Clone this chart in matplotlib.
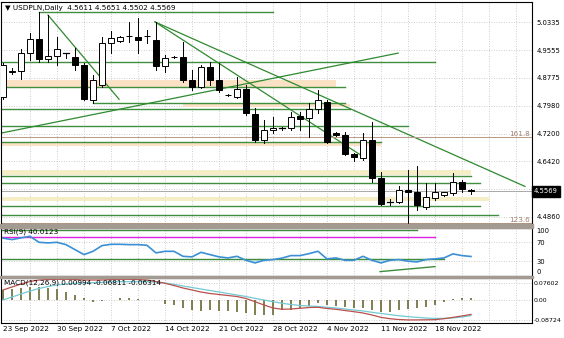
import numpy as np
import pandas as pd
import matplotlib
matplotlib.use('Agg')
import matplotlib.pyplot as plt
from matplotlib.patches import Rectangle
import matplotlib.transforms as mtransforms

# daily bars, broker sends a short Sunday bar, no Saturday
days = [d for d in pd.date_range('2022-09-23', '2022-11-23') if d.weekday() != 5]

opens = [4.8225, 4.8950, 4.8959, 4.9468, 4.9863, 4.9298, 4.9383, 4.9460, 4.9355, 4.9129,
         4.8140, 4.8564, 4.9750, 4.9807, 4.9955, 4.9920, 4.9955, 4.9835, 4.9101, 4.9345,
         4.9355, 4.8705, 4.8507, 4.9072, 4.8705, 4.8275, 4.8225, 4.8451, 4.7745, 4.7010,
         4.7293, 4.7345, 4.7349, 4.7688, 4.7632, 4.7886, 4.8084, 4.7208, 4.7151, 4.6615,
         4.6502, 4.7010, 4.5937, 4.5259, 4.5259, 4.5598, 4.5541, 4.5117, 4.5372, 4.5456,
         4.5513, 4.5824, 4.5611]
highs = [4.9185, 4.9044, 4.9581, 5.0033, 5.0626, 5.0541, 4.9920, 4.9475, 4.9609, 4.9185,
         4.8846, 4.9920, 5.0089, 4.9948, 5.0344, 5.0457, 5.0118, 5.0344, 4.9411, 4.9383,
         4.9779, 4.8988, 4.9129, 4.9214, 4.9185, 4.8310, 4.8790, 4.8564, 4.7914, 4.7575,
         4.7660, 4.7377, 4.7801, 4.7801, 4.8055, 4.8423, 4.8140, 4.7236, 4.7236, 4.6643,
         4.7208, 4.7519, 4.6106, 4.5343, 4.5711, 4.6163, 4.6276, 4.5795, 4.5795, 4.5541,
         4.6078, 4.5880, 4.5651]
lows = [4.8168, 4.8875, 4.8733, 4.9270, 4.9214, 4.9214, 4.9129, 4.9327, 4.8988, 4.8140,
        4.8055, 4.8507, 4.9468, 4.9779, 4.9779, 4.9468, 4.9750, 4.8988, 4.8931, 4.9327,
        4.8649, 4.8423, 4.8479, 4.8564, 4.8366, 4.8253, 4.8210, 4.7716, 4.6954, 4.6925,
        4.7208, 4.7307, 4.7293, 4.7293, 4.7095, 4.7773, 4.6925, 4.7138, 4.6587, 4.6417,
        4.6445, 4.5824, 4.5174, 4.5174, 4.5230, 4.4694, 4.5033, 4.5061, 4.5315, 4.5442,
        4.5456, 4.5541, 4.5502]
closes = [4.9129, 4.8965, 4.9468, 4.9863, 4.9298, 4.9383, 4.9581, 4.9468, 4.9129, 4.8168,
          4.8705, 4.9750, 4.9892, 4.9920, 4.9940, 4.9835, 4.9940, 4.9101, 4.9327, 4.9360,
          4.8705, 4.8507, 4.9072, 4.8705, 4.8423, 4.8285, 4.8451, 4.7773, 4.7010, 4.7293,
          4.7349, 4.7352, 4.7660, 4.7603, 4.7886, 4.8140, 4.6954, 4.7151, 4.6615, 4.6530,
          4.7010, 4.5937, 4.5202, 4.5265, 4.5598, 4.5541, 4.5174, 4.5400, 4.5541, 4.5541,
          4.5824, 4.5626, 4.5569]

rsi = [78.7, 75.6, 79.2, 82.5, 69.9, 68.6, 69.9, 65.0, 54.5, 44.0,
       50.9, 62.9, 65.7, 65.7, 65.0, 65.0, 63.6, 47.6, 50.9, 50.9,
       40.4, 39.2, 48.8, 44.0, 39.2, 37.0, 40.4, 32.0, 26.5, 32.0,
       33.5, 36.6, 41.9, 41.9, 46.0, 51.0, 35.0, 37.0, 32.0, 32.0,
       40.4, 32.0, 26.5, 32.0, 33.5, 30.0, 28.6, 33.5, 35.0, 37.0,
       45.5, 41.9, 40.0123]

macd_hist = [0.0438, 0.0468, 0.0512, 0.0582, 0.0582, 0.0512, 0.0468, 0.0363, 0.0219, 0.0074,
             -0.0074, -0.0031, 0.0013, 0.0074, 0.0074, 0.0044, 0.0013, -0.0005, -0.0175, -0.0219,
             -0.0337, -0.0438, -0.0468, -0.0438, -0.0468, -0.0468, -0.0538, -0.0582, -0.0656, -0.0656,
             -0.0656, -0.0438, -0.0438, -0.0363, -0.0263, -0.0118, -0.0219, -0.0263, -0.0319, -0.0363,
             -0.0363, -0.0438, -0.0512, -0.0512, -0.0438, -0.0407, -0.0363, -0.0293, -0.0219, -0.0074,
             0.0031, 0.0074, 0.00994]
macd_main = [0.0438, 0.0569, 0.0700, 0.0810, 0.0875, 0.0897, 0.0906, 0.0906, 0.0897, 0.0875,
             0.0875, 0.0875, 0.0897, 0.0906, 0.0906, 0.0897, 0.0875, 0.0810, 0.0731, 0.0635,
             0.0525, 0.0438, 0.0350, 0.0284, 0.0241, 0.0197, 0.0153, 0.0066, -0.0074, -0.0219,
             -0.0350, -0.0407, -0.0394, -0.0363, -0.0328, -0.0319, -0.0372, -0.0407, -0.0460, -0.0512,
             -0.0569, -0.0656, -0.0760, -0.0820, -0.0855, -0.0872, -0.0872, -0.0868, -0.0860, -0.0820,
             -0.0760, -0.0700, -0.06314]
macd_signal = [0.0000, 0.0131, 0.0263, 0.0394, 0.0503, 0.0591, 0.0656, 0.0700, 0.0731, 0.0744,
               0.0757, 0.0775, 0.0788, 0.0801, 0.0801, 0.0801, 0.0801, 0.0788, 0.0744, 0.0687,
               0.0613, 0.0547, 0.0481, 0.0416, 0.0350, 0.0284, 0.0219, 0.0153, 0.0074, 0.0000,
               -0.0074, -0.0144, -0.0197, -0.0241, -0.0263, -0.0284, -0.0319, -0.0350, -0.0394, -0.0438,
               -0.0481, -0.0538, -0.0590, -0.0640, -0.0690, -0.0730, -0.0760, -0.0790, -0.0805, -0.0805,
               -0.0785, -0.0745, -0.06811]

price_ticks = [5.0335, 4.9555, 4.8775, 4.7980, 4.7200, 4.6420, 4.5640, 4.4860]
last_price = 4.5569

# drawn objects: (price, from bar, to bar)
h_lines = [(5.0618, 4, 30), (4.9222, -1, 48), (4.8521, -1, 38), (4.8069, 10, 38),
           (4.7906, -1, 38.6), (4.7427, -1, 45), (4.6975, -1, 42), (4.5993, -1, 52),
           (4.5804, -1, 53), (4.5146, -1, 53), (4.4905, -1, 55)]
zones = [(4.8705, 4.8521, -1, 37, '#fbe2c5'), (4.8041, 4.7942, 20, 38.6, '#fbe2c5'),
         (4.6954, 4.6841, -1, 42, '#fbe2c5'), (4.6163, 4.6021, -1, 52, '#f4edc6'),
         (4.5400, 4.5287, -1, 54, '#f4edc6')]
trend_lines = [(5, 5.0541, 12.9, 4.8168), (16.9, 5.0346, 58, 4.5711),
               (16.9, 5.0346, 40.2, 4.6520), (-0.33, 4.7208, 43.9, 4.9468)]
fib = [(4.7095, '161.8'), (4.4680, '123.6')]

rsi_lines = [(95.8, -1, 46, '#3c8c3c'), (81.7, -1, 48, '#e020e0'), (33.7, -1, 49, '#3c8c3c')]
rsi_trend = (41.9, 8.2, 48, 18.7)

W, H = 564, 338
FS = 5.2
plt.rcParams['font.family'] = 'DejaVu Sans'
plt.rcParams['font.size'] = FS
fig = plt.figure(figsize=(W / 100, H / 100), dpi=100)


def box(top, bottom, left=1, right=532):
    return [left / W, 1 - bottom / H, (right - left) / W, (bottom - top) / H]


ax = fig.add_axes(box(1.5, 223.5))
ax_rsi = fig.add_axes(box(228, 275.5))
ax_macd = fig.add_axes(box(277.5, 323))

# panel separators
for top, bot in [(223.5, 228), (275.5, 277.5)]:
    fig.patches.append(Rectangle((0, 1 - bot / H), 533 / W, (bot - top) / H,
                                 transform=fig.transFigure, color='#a39a92', zorder=5))

n = len(opens)
x = np.arange(n)
grid_kw = dict(color='#bdbdbd', linestyle=(0, (1, 2)), linewidth=0.6)
for a in (ax, ax_rsi, ax_macd):
    a.set_xlim(-0.22, 58.78)
    a.set_xticks(np.arange(3, 58, 3))
    a.grid(True, **grid_kw)
    a.set_axisbelow(True)
    a.yaxis.tick_right()
    a.tick_params(axis='y', length=0, pad=3, labelsize=4.9)
    a.tick_params(axis='x', labelbottom=False, length=0)
    for s in a.spines.values():
        s.set_linewidth(0.8)
        s.set_color('black')

# ---- main price panel
ax.set_ylim(4.4666, 5.0923)
ax.set_yticks(price_ticks)
ax.set_yticklabels([f'{p:.4f}' if p != 4.5640 else '' for p in price_ticks])

for top, bot, x0, x1, col in zones:
    ax.add_patch(Rectangle((x0, bot), x1 - x0, top - bot, color=col, lw=0, zorder=1))
for p, x0, x1 in h_lines:
    ax.plot([x0, x1], [p, p], color='#3f8f3f', lw=1.0, zorder=2)
for x0, p0, x1, p1 in trend_lines:
    ax.plot([x0, x1], [p0, p1], color='#2f8a2f', lw=0.9, zorder=2)
for p, txt in fib:
    ax.axhline(p, color='#b89a84', lw=0.7, zorder=2)
    ax.text(58.6, p, txt, color='#a08070', ha='right', va='bottom', fontsize=FS, zorder=6)
ax.axhline(last_price, color='#a8a8a8', lw=0.7, zorder=2)

bw = 0.62
for i in range(n):
    o, h, l, c = opens[i], highs[i], lows[i], closes[i]
    ax.plot([i, i], [l, h], color='black', lw=0.7, zorder=3)
    lo, hi = min(o, c), max(o, c)
    if hi - lo < 0.0008:
        ax.plot([i - bw / 2, i + bw / 2], [c, c], color='black', lw=0.9, zorder=4)
    else:
        face = 'white' if c > o else 'black'
        ax.add_patch(Rectangle((i - bw / 2, lo), bw, hi - lo, facecolor=face,
                               edgecolor='black', lw=0.7, zorder=4))

ax.text(0.008, 0.985, '\u25bc USDPLN,Daily  4.5611 4.5651 4.5502 4.5569',
        transform=ax.transAxes, ha='left', va='top', fontsize=FS, zorder=6)
tr = mtransforms.blended_transform_factory(ax.transAxes, ax.transData)
ax.text(1.003, last_price, f'{last_price:.4f}', transform=tr, color='white', ha='left',
        va='center', fontsize=4.9, zorder=7,
        bbox=dict(boxstyle='square,pad=0.3', fc='black', ec='black'))

# ---- RSI panel
ax_rsi.set_ylim(0, 100)
ax_rsi.set_yticks([100, 70, 30, 0])
ax_rsi.set_yticklabels(['100', '70', '30', '0'])
labs = ax_rsi.get_yticklabels()
labs[0].set_va('top')
labs[3].set_va('bottom')
for lv, x0, x1, col in rsi_lines:
    ax_rsi.plot([x0, x1], [lv, lv], color=col, lw=1.0, zorder=2)
ax_rsi.plot([rsi_trend[0], rsi_trend[2]], [rsi_trend[1], rsi_trend[3]], color='#3c8c3c', lw=1.0)
r = np.array(rsi)
ax_rsi.fill_between(x, r, 33.7, where=r < 33.7, interpolate=True, color='#cde8f4', lw=0, zorder=1)
ax_rsi.plot(x, rsi, color='#3b8fd4', lw=1.2, zorder=3)
ax_rsi.text(0.006, 0.99, 'RSI(9) 40.0123', transform=ax_rsi.transAxes, ha='left', va='top',
            fontsize=FS, zorder=6)

# ---- MACD panel
ax_macd.set_ylim(-0.1007, 0.0985)
ax_macd.set_yticks([0.07602, 0.0, -0.08724])
ax_macd.set_yticklabels(['0.07602', '0.00', '-0.08724'])
ax_macd.tick_params(axis='y', pad=1.5, labelsize=4.5)
ax_macd.vlines(x, 0, macd_hist, color='#5c5c22', lw=1.1, zorder=2)
ax_macd.plot(x, macd_signal, color='#72cad4', lw=0.9, zorder=3)
ax_macd.plot(x, macd_main, color='#b9504c', lw=0.9, zorder=3)
ax_macd.text(0.006, 0.96, 'MACD(12,26,9) 0.00994 -0.06811 -0.06314', transform=ax_macd.transAxes,
             ha='left', va='top', fontsize=FS, zorder=6)

# week labels on Fridays, text starts at the bar
for i, d in enumerate(days):
    if d.weekday() == 4:
        ax_macd.annotate(f'{d.day} {d:%b %Y}', xy=(i, 0), xycoords=('data', 'axes fraction'),
                         xytext=(0, -2.5), textcoords='offset points', ha='left', va='top',
                         fontsize=FS, annotation_clip=False)

fig.savefig('out.png', dpi=100, facecolor='white')
